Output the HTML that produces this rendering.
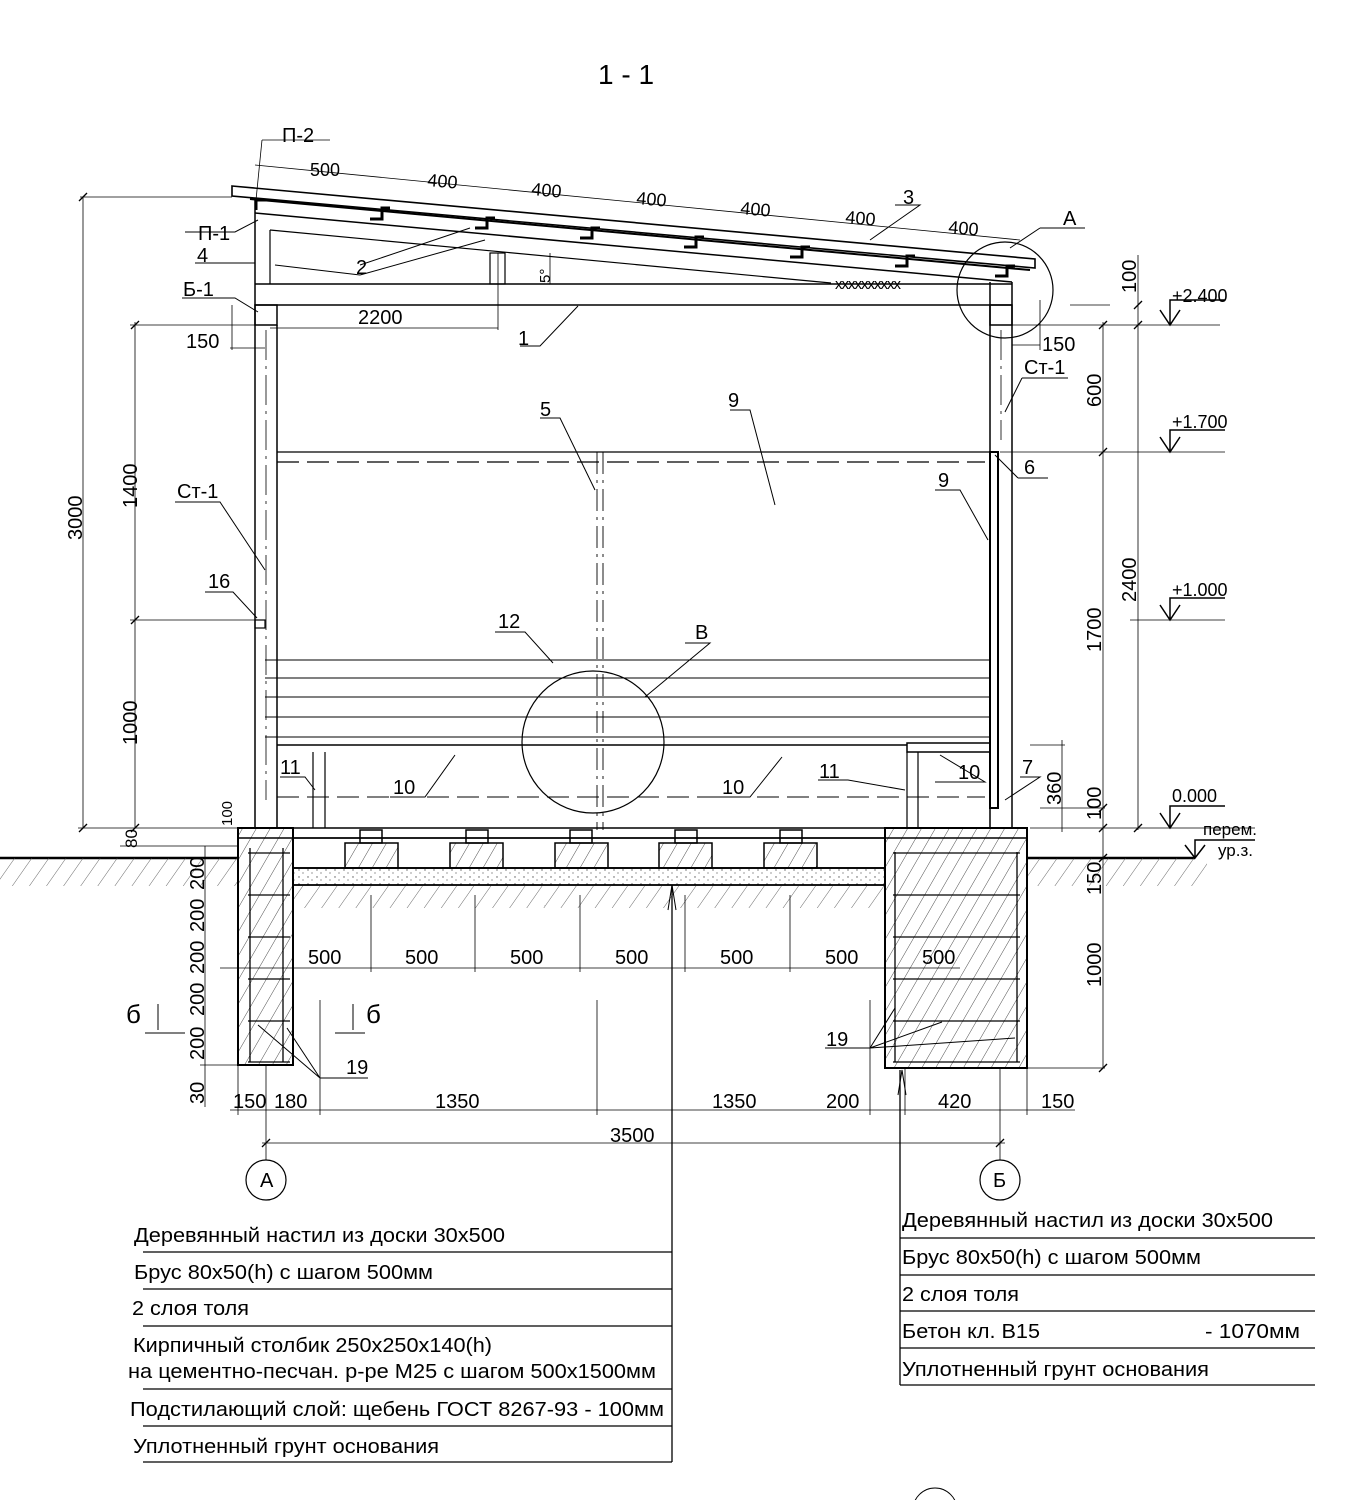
<!DOCTYPE html>
<html><head><meta charset="utf-8"><style>
html,body{margin:0;padding:0;background:#fff}
svg{display:block}
text{font-family:"Liberation Sans",Arial,sans-serif;fill:#000}
</style></head><body>
<svg width="1349" height="1500" viewBox="0 0 1349 1500" xmlns="http://www.w3.org/2000/svg">
<defs>
<pattern id="h" width="12" height="12" patternUnits="userSpaceOnUse" patternTransform="rotate(30)">
<line x1="0" y1="0" x2="0" y2="12" stroke="#000" stroke-width="0.7"/></pattern>
<pattern id="g" width="14" height="14" patternUnits="userSpaceOnUse" patternTransform="rotate(35)">
<line x1="0" y1="0" x2="0" y2="14" stroke="#444" stroke-width="0.8"/></pattern>
<pattern id="d" width="9" height="7" patternUnits="userSpaceOnUse">
<circle cx="2" cy="2" r="0.7" fill="#555"/><circle cx="6" cy="5" r="0.6" fill="#555"/></pattern>
</defs>
<g stroke="#000" fill="none" stroke-width="1.2">
<text x="598" y="84" font-size="28" stroke="none">1 - 1</text>

<polygon points="232,186 1035,259 1035,268 232,196" stroke-width="1.6"/>
<line x1="250" y1="199" x2="1030" y2="270" stroke-width="2"/>
<line x1="255" y1="213" x2="1012" y2="282" stroke-width="1.5"/>
<line x1="270" y1="230" x2="831" y2="283" stroke-width="1.2"/>
<g stroke-width="3">
<path d="M256,210 V200 h10"/><path d="M370,219 h12 V208 h8"/><path d="M475,228 h12 V218 h8"/>
<path d="M580,238 h12 V228 h8"/><path d="M684,247 h12 V237 h8"/><path d="M790,257 h12 V247 h8"/>
<path d="M895,266 h12 V256 h8"/><path d="M995,276 h12 V266 h8"/>
</g>
<line x1="255" y1="284" x2="1012" y2="284" stroke-width="1.5"/>
<line x1="255" y1="305" x2="1012" y2="305" stroke-width="1.5"/>
<rect x="490" y="253" width="15" height="31"/>
<line x1="270" y1="230" x2="270" y2="284"/>
<text x="835" y="289" font-size="15" stroke="none" letter-spacing="-1">xxxxxxxxxx</text>
<rect x="255" y="305" width="22" height="20" stroke-width="1.5"/>
<rect x="990" y="305" width="22" height="20" stroke-width="1.5"/>
<line x1="255" y1="198" x2="255" y2="828" stroke-width="1.5"/>
<line x1="277" y1="325" x2="277" y2="828" stroke-width="1.5"/>
<line x1="990" y1="282" x2="990" y2="828" stroke-width="1.5"/>
<line x1="1012" y1="282" x2="1012" y2="828" stroke-width="1.5"/>
<line x1="266" y1="330" x2="266" y2="800" stroke-dasharray="30,6,3,6" stroke-width="0.8"/>
<line x1="1001" y1="330" x2="1001" y2="440" stroke-dasharray="30,6,3,6" stroke-width="0.8"/>
<line x1="277" y1="452" x2="998" y2="452"/>
<line x1="277" y1="462" x2="985" y2="462" stroke-dasharray="22,8"/>
<line x1="597" y1="452" x2="597" y2="830" stroke-dasharray="22,6,3,6" stroke-width="0.9"/>
<line x1="603" y1="452" x2="603" y2="830" stroke-dasharray="22,6,3,6" stroke-width="0.9"/>
<rect x="990" y="452" width="8" height="356" stroke-width="2"/>
<rect x="255" y="620" width="10" height="8"/>
<g stroke-width="1">
<line x1="265" y1="660" x2="990" y2="660"/><line x1="265" y1="678" x2="990" y2="678"/>
<line x1="265" y1="697" x2="990" y2="697"/><line x1="265" y1="717" x2="990" y2="717"/>
<line x1="265" y1="737" x2="990" y2="737"/>
</g>
<line x1="277" y1="745" x2="907" y2="745" stroke-width="1.5"/>
<rect x="907" y="743" width="83" height="9" stroke-width="1.5"/>
<line x1="907" y1="752" x2="907" y2="828"/><line x1="918" y1="752" x2="918" y2="828"/>
<line x1="313" y1="752" x2="313" y2="828"/><line x1="325" y1="752" x2="325" y2="828"/>
<line x1="277" y1="797" x2="985" y2="797" stroke-dasharray="22,8" stroke-width="0.9"/>
<circle cx="593" cy="742" r="71"/>
<circle cx="1005" cy="290" r="48"/>
<rect x="238" y="828" width="789" height="10" stroke-width="1.5"/>
<line x1="0" y1="858" x2="238" y2="858" stroke-width="2.5"/>
<line x1="1027" y1="858" x2="1195" y2="858" stroke-width="2.5"/>
<rect x="0" y="858" width="238" height="28" fill="url(#g)" stroke="none"/>
<rect x="1027" y="858" width="180" height="28" fill="url(#g)" stroke="none"/>
<rect x="293" y="886" width="592" height="22" fill="url(#g)" stroke="none"/>
<rect x="238" y="828" width="55" height="237" fill="url(#h)" stroke-width="2"/>
<rect x="885" y="828" width="142" height="240" fill="url(#h)" stroke-width="2"/>
<g stroke-width="1.3">
<line x1="250" y1="848" x2="250" y2="1062"/><line x1="283" y1="848" x2="283" y2="1062"/>
<line x1="895" y1="852" x2="895" y2="1062"/><line x1="1017" y1="852" x2="1017" y2="1062"/>
<line x1="248" y1="853" x2="290" y2="853"/><line x1="248" y1="895" x2="290" y2="895"/><line x1="248" y1="937" x2="290" y2="937"/>
<line x1="248" y1="979" x2="290" y2="979"/><line x1="248" y1="1021" x2="290" y2="1021"/><line x1="248" y1="1062" x2="290" y2="1062"/>
<line x1="893" y1="853" x2="1020" y2="853"/><line x1="893" y1="895" x2="1020" y2="895"/><line x1="893" y1="937" x2="1020" y2="937"/>
<line x1="893" y1="979" x2="1020" y2="979"/><line x1="893" y1="1021" x2="1020" y2="1021"/><line x1="893" y1="1062" x2="1020" y2="1062"/>
</g>
<g stroke-width="1.5">
<rect x="345" y="843" width="53" height="25" fill="url(#h)"/><rect x="450" y="843" width="53" height="25" fill="url(#h)"/>
<rect x="555" y="843" width="53" height="25" fill="url(#h)"/><rect x="659" y="843" width="53" height="25" fill="url(#h)"/>
<rect x="764" y="843" width="53" height="25" fill="url(#h)"/>
<rect x="360" y="830" width="22" height="13"/><rect x="466" y="830" width="22" height="13"/><rect x="570" y="830" width="22" height="13"/>
<rect x="675" y="830" width="22" height="13"/><rect x="780" y="830" width="22" height="13"/>
<rect x="293" y="838" width="592" height="30"/>
<rect x="293" y="868" width="592" height="17" stroke-width="1.8" fill="url(#d)"/>
</g>
<g stroke-width="0.8">
<line x1="255" y1="165" x2="1020" y2="240"/>
<line x1="262" y1="140" x2="330" y2="140"/><line x1="262" y1="140" x2="255" y2="210"/>
<line x1="80" y1="197" x2="232" y2="197"/>
<line x1="83" y1="197" x2="83" y2="828"/><line x1="135" y1="322" x2="135" y2="828"/>
<line x1="130" y1="325" x2="255" y2="325"/><line x1="130" y1="620" x2="255" y2="620"/>
<line x1="78" y1="828" x2="238" y2="828"/><line x1="120" y1="846" x2="238" y2="846"/>
<line x1="232" y1="305" x2="232" y2="350"/><line x1="230" y1="348" x2="265" y2="348"/>
<line x1="270" y1="328" x2="498" y2="328"/><line x1="498" y1="253" x2="498" y2="330"/>
<line x1="550" y1="253" x2="550" y2="284"/>
<line x1="1070" y1="305" x2="1110" y2="305"/>
<line x1="1010" y1="325" x2="1220" y2="325"/><line x1="1000" y1="452" x2="1225" y2="452"/>
<line x1="1130" y1="620" x2="1225" y2="620"/><line x1="1030" y1="828" x2="1255" y2="828"/>
<line x1="1040" y1="808" x2="1105" y2="808"/><line x1="1030" y1="745" x2="1065" y2="745"/>
<line x1="1103" y1="322" x2="1103" y2="1068"/><line x1="1138" y1="255" x2="1138" y2="830"/><line x1="1062" y1="740" x2="1062" y2="832"/>
<line x1="1027" y1="858" x2="1105" y2="858"/><line x1="1027" y1="1068" x2="1105" y2="1068"/>
<line x1="1012" y1="345" x2="1040" y2="345"/><line x1="1040" y1="300" x2="1040" y2="350"/>
<line x1="205" y1="846" x2="205" y2="1107"/><line x1="200" y1="1065" x2="238" y2="1065"/>
<line x1="220" y1="968" x2="960" y2="968"/>
<line x1="230" y1="1110" x2="1075" y2="1110"/>
<line x1="262" y1="1143" x2="1005" y2="1143"/>
<line x1="266" y1="1065" x2="266" y2="1160"/><line x1="1000" y1="1068" x2="1000" y2="1160"/>
<line x1="238" y1="1065" x2="238" y2="1115"/><line x1="320" y1="1000" x2="320" y2="1115"/>
<line x1="597" y1="1000" x2="597" y2="1115"/><line x1="870" y1="1000" x2="870" y2="1115"/>
<line x1="905" y1="1068" x2="905" y2="1115"/><line x1="1027" y1="1068" x2="1027" y2="1115"/>
<line x1="371" y1="895" x2="371" y2="972"/><line x1="475" y1="895" x2="475" y2="972"/><line x1="580" y1="895" x2="580" y2="972"/>
<line x1="685" y1="895" x2="685" y2="972"/><line x1="790" y1="895" x2="790" y2="972"/>
</g>
<g stroke-width="1.3">
<line x1="79" y1="201" x2="87" y2="193"/><line x1="79" y1="832" x2="87" y2="824"/>
<line x1="131" y1="329" x2="139" y2="321"/><line x1="131" y1="624" x2="139" y2="616"/><line x1="131" y1="832" x2="139" y2="824"/>
<line x1="1099" y1="329" x2="1107" y2="321"/><line x1="1099" y1="456" x2="1107" y2="448"/><line x1="1099" y1="812" x2="1107" y2="804"/>
<line x1="1099" y1="832" x2="1107" y2="824"/><line x1="1099" y1="862" x2="1107" y2="854"/><line x1="1099" y1="1072" x2="1107" y2="1064"/>
<line x1="1134" y1="309" x2="1142" y2="301"/><line x1="1134" y1="329" x2="1142" y2="321"/><line x1="1134" y1="832" x2="1142" y2="824"/>
<line x1="262" y1="1147" x2="270" y2="1139"/><line x1="996" y1="1147" x2="1004" y2="1139"/>
</g>
<g stroke-width="1.5">
<path d="M1160,310 L1170,325 L1180,310 M1170,325 V300 H1225"/>
<path d="M1160,437 L1170,452 L1180,437 M1170,452 V430 H1225"/>
<path d="M1160,605 L1170,620 L1180,605 M1170,620 V598 H1225"/>
<path d="M1160,813 L1170,828 L1180,813 M1170,828 V806 H1225"/>
<path d="M1185,845 L1195,858 L1205,845 M1195,858 V840 H1255"/>
</g>
<g stroke-width="1">
<path d="M185,232 H235 L258,220"/><path d="M195,263 H255"/><path d="M182,298 H235 L258,312"/>
<path d="M360,265 L470,228 M360,275 L485,240 M275,265 L360,275"/>
<path d="M520,346 H540 L578,306"/>
<path d="M1040,228 H1085 M1040,228 L1010,248"/>
<path d="M895,205 H920 L870,240"/>
<path d="M1022,378 H1068 M1022,378 L1005,412"/>
<path d="M1018,478 H1048 M1018,478 L995,455"/>
<path d="M935,490 H960 L988,540"/>
<path d="M730,410 H750 L775,505"/>
<path d="M540,418 H560 L595,490"/>
<path d="M175,502 H220 L265,570"/>
<path d="M205,592 H233 L257,618"/>
<path d="M495,632 H525 L553,663"/>
<path d="M685,643 H710 L645,697"/>
<path d="M390,797 H425 L455,755"/>
<path d="M715,797 H750 L782,757"/>
<path d="M818,780 H848 L905,790"/>
<path d="M280,777 H305 L315,790"/>
<path d="M935,782 H985 L940,755"/>
<path d="M1020,777 H1040 L1005,800"/>
<path d="M320,1078 H368 L320,1078 L258,1025 M320,1078 L287,1028"/>
<path d="M825,1048 H870 L895,1008 M870,1048 L942,1022 M870,1048 L1015,1038"/>
<path d="M145,1033 H185 M158,1004 V1030"/><path d="M335,1033 H365 M353,1004 V1030"/>
</g>
<circle cx="266" cy="1180" r="20"/><circle cx="1000" cy="1180" r="20"/>
<g stroke-width="1.3">
<line x1="672" y1="885" x2="672" y2="1462"/>
<line x1="143" y1="1252" x2="672" y2="1252"/><line x1="143" y1="1289" x2="672" y2="1289"/><line x1="143" y1="1326" x2="672" y2="1326"/>
<line x1="143" y1="1389" x2="672" y2="1389"/><line x1="143" y1="1426" x2="672" y2="1426"/><line x1="143" y1="1462" x2="672" y2="1462"/>
<line x1="900" y1="1070" x2="900" y2="1385"/>
<line x1="900" y1="1238" x2="1315" y2="1238"/><line x1="900" y1="1275" x2="1315" y2="1275"/><line x1="900" y1="1311" x2="1315" y2="1311"/>
<line x1="900" y1="1348" x2="1315" y2="1348"/><line x1="900" y1="1385" x2="1315" y2="1385"/>
</g>
<path d="M668,910 L672,885 L676,910" stroke-width="1"/><path d="M898,1095 L902,1070 L906,1095" stroke-width="1"/>
</g>
<g font-size="20" font-family="Liberation Sans">
<text x="282" y="142">П-2</text><text x="310" y="176" font-size="18">500</text>
<text x="427" y="186" font-size="18" transform="rotate(5 427 186)">400</text>
<text x="531" y="195" font-size="18" transform="rotate(5 531 195)">400</text>
<text x="636" y="204" font-size="18" transform="rotate(5 636 204)">400</text>
<text x="740" y="214" font-size="18" transform="rotate(5 740 214)">400</text>
<text x="845" y="223" font-size="18" transform="rotate(5 845 223)">400</text>
<text x="948" y="233" font-size="18" transform="rotate(5 948 233)">400</text>
<text x="903" y="204">3</text><text x="1063" y="225">A</text>
<text x="198" y="240">П-1</text><text x="197" y="262">4</text><text x="183" y="296">Б-1</text>
<text x="356" y="274">2</text><text x="358" y="324">2200</text><text x="186" y="348">150</text>
<text x="518" y="345">1</text><text x="1042" y="351">150</text><text x="1024" y="374">Ст-1</text>
<text x="540" y="416">5</text><text x="728" y="407">9</text><text x="1024" y="474">6</text><text x="938" y="487">9</text>
<text x="177" y="498">Ст-1</text><text x="208" y="588">16</text><text x="498" y="628">12</text><text x="695" y="639">B</text>
<text x="280" y="774">11</text><text x="393" y="794">10</text><text x="722" y="794">10</text><text x="819" y="778">11</text>
<text x="958" y="779">10</text><text x="1022" y="774">7</text><text x="1172" y="802" font-size="18">0.000</text>
<text x="1172" y="302" font-size="18">+2.400</text><text x="1172" y="428" font-size="18">+1.700</text><text x="1172" y="596" font-size="18">+1.000</text>
<text x="1203" y="835" font-size="17">перем.</text><text x="1218" y="856" font-size="17">ур.з.</text>
<text x="308" y="964">500</text><text x="405" y="964">500</text><text x="510" y="964">500</text><text x="615" y="964">500</text>
<text x="720" y="964">500</text><text x="825" y="964">500</text><text x="922" y="964">500</text>
<text x="126" y="1023" font-size="26">б</text><text x="366" y="1023" font-size="26">б</text>
<text x="346" y="1074">19</text><text x="826" y="1046">19</text>
<text x="233" y="1108">150</text><text x="274" y="1108">180</text><text x="435" y="1108">1350</text><text x="712" y="1108">1350</text>
<text x="826" y="1108">200</text><text x="938" y="1108">420</text><text x="1041" y="1108">150</text><text x="610" y="1142">3500</text>
<text x="260" y="1187">A</text><text x="993" y="1187">Б</text>
<g transform="rotate(-90)">
<text x="-540" y="82">3000</text><text x="-508" y="137">1400</text><text x="-745" y="137">1000</text>
<text x="-848" y="137" font-size="17">80</text><text x="-826" y="232" font-size="15">100</text>
<text x="-407" y="1101">600</text><text x="-652" y="1101">1700</text><text x="-820" y="1101">100</text>
<text x="-602" y="1136">2400</text><text x="-293" y="1136">100</text><text x="-805" y="1061">360</text>
<text x="-283" y="550" font-size="15">5°</text>
<text x="-895" y="1101">150</text><text x="-987" y="1101">1000</text>
<text x="-890" y="204">200</text><text x="-932" y="204">200</text><text x="-974" y="204">200</text>
<text x="-1016" y="204">200</text><text x="-1060" y="204">200</text><text x="-1104" y="204">30</text>
</g>
<text x="134" y="1242" textLength="371" lengthAdjust="spacingAndGlyphs">Деревянный настил из доски 30x500</text>
<text x="134" y="1279" textLength="299" lengthAdjust="spacingAndGlyphs">Брус 80x50(h) с шагом 500мм</text>
<text x="132" y="1315" textLength="117" lengthAdjust="spacingAndGlyphs">2 слоя толя</text>
<text x="133" y="1352" textLength="359" lengthAdjust="spacingAndGlyphs">Кирпичный столбик 250x250x140(h)</text>
<text x="128" y="1378" textLength="528" lengthAdjust="spacingAndGlyphs">на цементно-песчан. р-ре М25 с шагом 500x1500мм</text>
<text x="130" y="1416" textLength="534" lengthAdjust="spacingAndGlyphs">Подстилающий слой: щебень ГОСТ 8267-93 - 100мм</text>
<text x="133" y="1453" textLength="306" lengthAdjust="spacingAndGlyphs">Уплотненный грунт основания</text>
<text x="902" y="1227" textLength="371" lengthAdjust="spacingAndGlyphs">Деревянный настил из доски 30x500</text>
<text x="902" y="1264" textLength="299" lengthAdjust="spacingAndGlyphs">Брус 80x50(h) с шагом 500мм</text>
<text x="902" y="1301" textLength="117" lengthAdjust="spacingAndGlyphs">2 слоя толя</text>
<text x="902" y="1338" textLength="138" lengthAdjust="spacingAndGlyphs">Бетон кл. В15</text><text x="1205" y="1338" textLength="95" lengthAdjust="spacingAndGlyphs">-  1070мм</text>
<text x="902" y="1376" textLength="307" lengthAdjust="spacingAndGlyphs">Уплотненный грунт основания</text>
</g>
<circle cx="935" cy="1510" r="22" stroke="#000" fill="none"/>
</svg>
</body></html>
